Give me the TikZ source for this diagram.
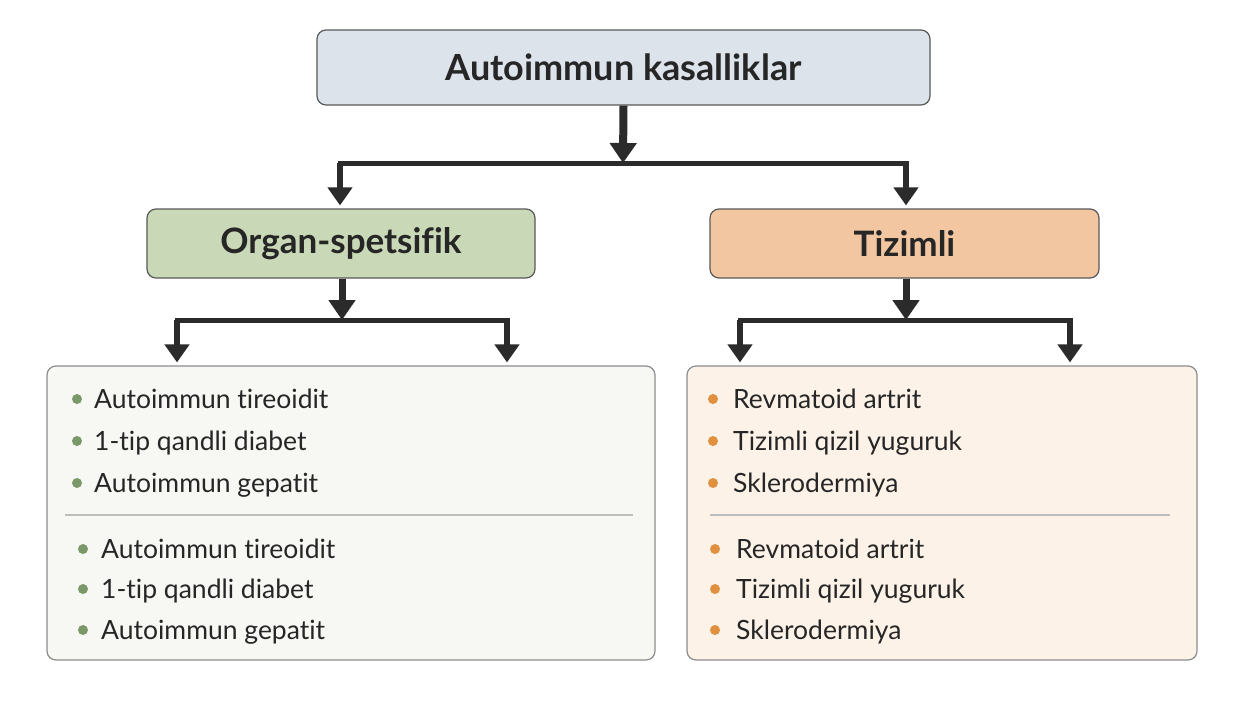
\documentclass[tikz,border=0pt]{standalone}
\usepackage{fontspec}
\setmainfont[Ligatures={NoCommon,NoRequired,NoContextual}]{Lato}
\usetikzlibrary{arrows.meta}
\definecolor{txt}{HTML}{262626}
\definecolor{arr}{HTML}{2B2B2B}
\definecolor{topfill}{HTML}{DDE3EB}
\definecolor{grfill}{HTML}{C9D8B6}
\definecolor{orfill}{HTML}{F2C6A0}
\definecolor{lgfill}{HTML}{F7F8F3}
\definecolor{lofill}{HTML}{FCF2E8}
\definecolor{gbul}{HTML}{7A9868}
\definecolor{obul}{HTML}{E0903E}
\definecolor{sep}{HTML}{BDBDBD}
\tikzset{
  hbox/.style={draw=black!65, line width=1.2pt, rounded corners=9pt, inner sep=0pt, text=txt, font=\bfseries\fontsize{35}{40}\selectfont},
  listbox/.style={draw=black!45, line width=1.2pt, rounded corners=9pt, inner sep=0pt},
  item/.style={anchor=base west, inner sep=0pt, text=txt, font=\fontsize{26.5}{30}\selectfont},
  bigarrow/.style={draw=arr, line width=8pt, -{Triangle[width=26pt,length=20pt]}},
  midarrow/.style={draw=arr, line width=5.5pt, -{Triangle[width=24pt,length=18pt]}, shorten >=3pt},
  hline/.style={draw=arr, line width=5pt, line cap=rect},
}
\begin{document}
\begin{tikzpicture}[x=1pt,y=-1pt]
\useasboundingbox[fill=white] (0,0) rectangle (1245,705);
% boxes
\node[hbox, fill=topfill, minimum width=613pt, minimum height=75pt, font=\bfseries\fontsize{36}{40}\selectfont] (top) at (623.5,67.5) {Autoimmun kasalliklar};
\node[hbox, fill=grfill, minimum width=388pt, minimum height=69pt] (organ) at (341,243.5) {Organ-spetsifik};
\node[hbox, fill=orfill, minimum width=389pt, minimum height=69pt] (tiz) at (904.5,243.5) {Tizimli};
\node[listbox, fill=lgfill, minimum width=608pt, minimum height=294pt] (lbox) at (351,513) {};
\node[listbox, fill=lofill, minimum width=510pt, minimum height=294pt] (rbox) at (942,513) {};
% connectors level 1
\coordinate (j1) at (623,163);
\coordinate (j1l) at (340,163);
\coordinate (j1r) at (906,163);
\draw[bigarrow] (top.south) -- (j1);
\draw[hline] (j1l) -- (j1r);
\draw[midarrow] (j1l) -- (j1l |- organ.north);
\draw[midarrow] (j1r) -- (j1r |- tiz.north);
% connectors level 2
\coordinate (j2) at (342,320);
\coordinate (j2l) at (177,320);
\coordinate (j2r) at (507,320);
\draw[bigarrow, line width=7pt] (j2 |- organ.south) -- (j2);
\draw[hline] (j2l) -- (j2r);
\draw[midarrow] (j2l) -- (j2l |- lbox.north);
\draw[midarrow] (j2r) -- (j2r |- lbox.north);
\coordinate (j3) at (906,320);
\coordinate (j3l) at (740,320);
\coordinate (j3r) at (1070,320);
\draw[bigarrow, line width=7pt] (j3 |- tiz.south) -- (j3);
\draw[hline] (j3l) -- (j3r);
\draw[midarrow] (j3l) -- (j3l |- rbox.north);
\draw[midarrow] (j3r) -- (j3r |- rbox.north);
% left list
\foreach \y/\t [count=\i] in {408/Autoimmun tireoidit,450/1-tip qandli diabet,492/Autoimmun gepatit}{
  \fill[gbul] (77,\y-9) circle (5pt);
  \node[item] (la\i) at (94,\y) {\t};
}
\draw[sep, line width=1.5pt] (65,515) -- (633,515);
\foreach \y/\t [count=\i] in {558/Autoimmun tireoidit,598/1-tip qandli diabet,639/Autoimmun gepatit}{
  \fill[gbul] (83,\y-9) circle (5pt);
  \node[item] (lb\i) at (101,\y) {\t};
}
% right list
\foreach \y/\t [count=\i] in {408/Revmatoid artrit,450/Tizimli qizil yuguruk,492/Sklerodermiya}{
  \fill[obul] (713,\y-9) circle (5pt);
  \node[item] (ra\i) at (733,\y) {\t};
}
\draw[sep, line width=1.5pt] (710,515) -- (1170,515);
\foreach \y/\t [count=\i] in {558/Revmatoid artrit,598/Tizimli qizil yuguruk,639/Sklerodermiya}{
  \fill[obul] (715,\y-9) circle (5pt);
  \node[item] (rb\i) at (736,\y) {\t};
}
\end{tikzpicture}
\end{document}
